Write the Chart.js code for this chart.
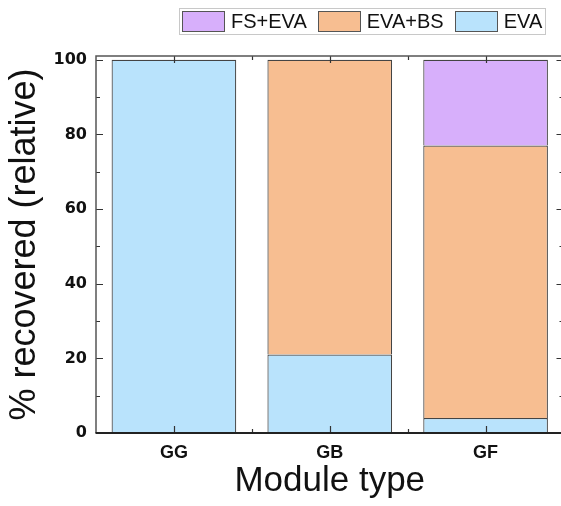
<!DOCTYPE html>
<html>
<head>
<meta charset="utf-8">
<script src="https://cdn.jsdelivr.net/npm/chart.js@4"></script>
<style>
  html, body { margin:0; padding:0; background:#fff; }
  body { width:561px; height:506px; overflow:hidden; position:relative; }
  #wrap { position:absolute; left:0; top:0; width:570px; height:506px; }
  #legend { position:absolute; left:179px; top:8px; width:367px; height:27px; box-sizing:border-box;
            border:1px solid #c8c8c8; display:flex; align-items:center; padding-left:2px;
            font-family:"Liberation Sans", Arial, sans-serif; font-size:20px; color:#111; }
  .sw { width:43px; height:21px; box-sizing:border-box; border:1px solid #555; margin-right:6px; flex:none; }
  .lt { margin-right:11px; line-height:21px; white-space:nowrap; }
</style>
</head>
<body>
<div id="wrap"><canvas id="c" width="570" height="506"></canvas></div>
<div id="legend"></div>
<script>
// ---- data ----
const categories = ['GG', 'GB', 'GF'];
const evaValues   = [100, 21, 4];
const evaBsValues = [null, 79, 73];
const fsEvaValues = [null, null, 23];
const yTickValues = [0, 20, 40, 60, 80, 100];
const seriesNames = ['EVA', 'EVA+BS', 'FS+EVA'];
const seriesColors = ['#B9E3FC', '#F7BE91', '#D7AFFB'];

const datasets = [evaValues, evaBsValues, fsEvaValues].map((vals, i) => ({
  label: seriesNames[i],
  data: vals,
  backgroundColor: seriesColors[i],
  borderColor: '#444',
  borderWidth: 1.2,
  borderSkipped: 'start',
  barPercentage: 1.0,
  categoryPercentage: 0.8
}));

// legend (reverse order)
const leg = document.getElementById('legend');
for (let i = seriesNames.length - 1; i >= 0; i--) {
  const sw = document.createElement('div'); sw.className = 'sw'; sw.style.background = seriesColors[i];
  const t = document.createElement('span'); t.className = 'lt'; t.textContent = seriesNames[i];
  leg.appendChild(sw); leg.appendChild(t);
}

const LEFT_PAD = 3.4;

const framePlugin = {
  id: 'frame',
  afterDatasetsDraw(chart) {
    const {ctx, chartArea: a, scales: {x, y}} = chart;
    ctx.save();
    ctx.strokeStyle = '#333';
    ctx.lineWidth = 1.2;
    ctx.beginPath();
    for (let v = 0; v <= 100; v += 10) {
      const py = Math.round(y.getPixelForValue(v)) + 0.5;
      const len = (v % 20 === 0) ? 7 : 4;
      ctx.moveTo(a.left, py); ctx.lineTo(a.left + len, py);
      ctx.moveTo(a.right, py); ctx.lineTo(a.right - len, py);
    }
    for (let i = 0; i < categories.length; i++) {
      const px = Math.round(x.getPixelForValue(i)) + 0.5;
      ctx.moveTo(px, a.bottom); ctx.lineTo(px, a.bottom - 7);
      ctx.moveTo(px, a.top); ctx.lineTo(px, a.top + 7);
    }
    for (let i = 0; i < categories.length - 1; i++) {
      const px = Math.round(x.getPixelForValue(i + 0.5)) + 0.5;
      ctx.moveTo(px, a.bottom); ctx.lineTo(px, a.bottom - 4);
      ctx.moveTo(px, a.top); ctx.lineTo(px, a.top + 4);
    }
    ctx.stroke();
    ctx.lineWidth = 1.5;
    ctx.strokeStyle = '#555';
    ctx.beginPath();
    ctx.moveTo(a.left, a.bottom); ctx.lineTo(a.left, a.top); ctx.lineTo(a.right, a.top); ctx.lineTo(a.right, a.bottom);
    ctx.stroke();
    ctx.lineWidth = 2;
    ctx.strokeStyle = '#222';
    ctx.beginPath();
    ctx.moveTo(a.left - 0.5, a.bottom); ctx.lineTo(a.right, a.bottom);
    ctx.stroke();
    ctx.restore();
  }
};

new Chart(document.getElementById('c'), {
  type: 'bar',
  data: { labels: categories, datasets },
  options: {
    responsive: false,
    animation: false,
    layout: { padding: { left: LEFT_PAD, right: 6.5, top: 56, bottom: 0 } },
    plugins: { legend: { display: false }, tooltip: { enabled: false } },
    scales: {
      x: {
        stacked: true,
        offset: true,
        grid: { display: false, drawTicks: false },
        border: { display: false },
        ticks: { padding: 9, color: '#111', font: { family: '"Liberation Sans", Arial, sans-serif', size: 18, weight: 'bold' } },
        title: { display: true, text: 'Module type', color: '#111', padding: { top: 0, bottom: 3.5 },
                 font: { family: '"Liberation Sans", Arial, sans-serif', size: 35 } },
        afterFit(s) { s.height = 73; }
      },
      y: {
        stacked: true,
        min: 0, max: 101,
        grid: { display: false, drawTicks: false },
        border: { display: false },
        afterBuildTicks(s) { s.ticks = yTickValues.map(v => ({ value: v })); },
        ticks: { padding: 9, color: '#111', font: { family: '"DejaVu Sans", sans-serif', size: 16, weight: 'bold' } },
        title: { display: true, text: '% recovered (relative)', color: '#111', padding: { top: 0, bottom: 0 },
                 font: { family: '"Liberation Sans", Arial, sans-serif', size: 36 } },
        afterFit(s) { s.width = 96 - LEFT_PAD; }
      }
    }
  },
  plugins: [framePlugin]
});
</script>
</body>
</html>
